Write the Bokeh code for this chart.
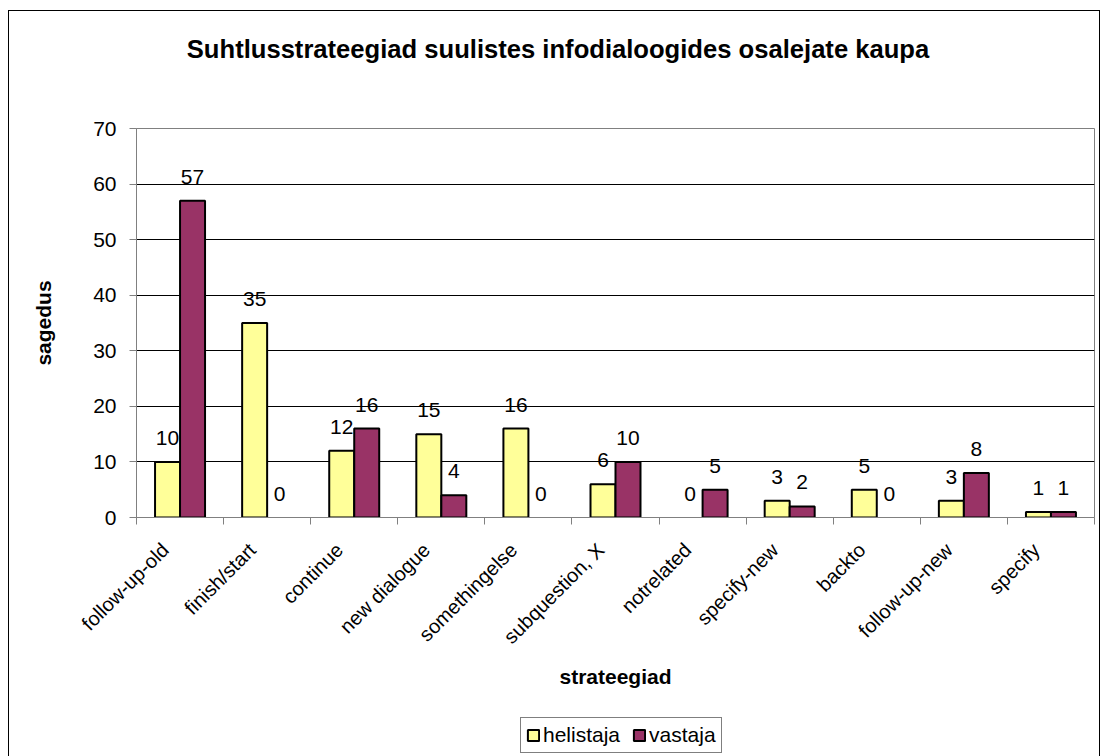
import math
from bokeh.plotting import figure
from bokeh.layouts import column
from bokeh.models import (ColumnDataSource, FixedTicker, LabelSet, Label, Legend, LegendItem)
from bokeh.core.properties import value
from bokeh.embed import file_html
from bokeh.resources import INLINE

categories = ["follow-up-old", "finish/start", "continue", "new dialogue", "somethingelse",
              "subquestion, X", "notrelated", "specify-new", "backto", "follow-up-new", "specify"]
helistaja = [10, 35, 12, 15, 16, 6, 0, 3, 5, 3, 1]
vastaja = [57, 0, 16, 4, 0, 10, 5, 2, 0, 8, 1]
y_ticks = [0, 10, 20, 30, 40, 50, 60, 70]
series_names = ["helistaja", "vastaja"]
title_text = "Suhtlusstrateegiad suulistes infodialoogides osalejate kaupa"

FONT = "Liberation Sans"
YELLOW = "#FFFF99"
PURPLE = "#993366"
BW = 0.287  # bar width in category units
W = 1090
SHIFT = 0.17  # label anchor shift (category units)

n = len(categories)
centers = [i + 0.5 for i in range(n)]
x_h = [c - BW / 2 for c in centers]
x_v = [c + BW / 2 for c in centers]

# ---- title strip (frame aligned with main chart frame) ----
tf = figure(width=W, height=100, x_range=(0, 1), y_range=(0, 1),
            x_axis_type=None, y_axis_type=None, output_backend="svg",
            toolbar_location=None, min_border=0)
tf.outline_line_color = None
tf.add_layout(Label(x=421.5, y=63, x_units="screen", y_units="screen", text=title_text,
                    text_font=FONT, text_font_size="25.6px", text_font_style="bold",
                    text_color="black", text_align="center", text_baseline="alphabetic"))

# ---- main chart ----
p = figure(width=W, height=600, x_range=(0, n), y_range=(0, 70),
           output_backend="svg", toolbar_location=None,
           min_border_left=127, min_border_right=5, min_border_top=17, min_border_bottom=194)

src_h = ColumnDataSource(dict(x=[x for x, v in zip(x_h, helistaja) if v > 0],
                              top=[v for v in helistaja if v > 0]))
src_v = ColumnDataSource(dict(x=[x for x, v in zip(x_v, vastaja) if v > 0],
                              top=[v for v in vastaja if v > 0]))
p.vbar(x="x", top="top", width=BW, bottom=0, source=src_h,
       fill_color=YELLOW, line_color="black", line_width=2)
p.vbar(x="x", top="top", width=BW, bottom=0, source=src_v,
       fill_color=PURPLE, line_color="black", line_width=2)

lab_src = ColumnDataSource(dict(x=x_h + x_v, y=helistaja + vastaja,
                                t=[str(v) for v in helistaja + vastaja]))
labels = LabelSet(x="x", y="y", text="t", source=lab_src, y_offset=17,
                  text_align="center", text_baseline="alphabetic",
                  text_font=value(FONT), text_font_size="21px", text_color="black")
p.add_layout(labels)

p.xaxis.ticker = FixedTicker(ticks=[c - SHIFT for c in centers], minor_ticks=list(range(n + 1)))
overrides = {}
for c, name in zip(centers, categories):
    overrides[c - SHIFT] = name
p.xaxis.major_label_overrides = overrides
p.xaxis.major_label_orientation = math.pi / 4
p.xaxis.major_tick_line_color = None
p.xaxis.major_tick_out = 0
p.xaxis.major_tick_in = 0
p.xaxis.minor_tick_out = 7
p.xaxis.minor_tick_in = 0
p.xaxis.minor_tick_line_color = "#808080"
p.xaxis.axis_line_color = "#808080"
p.xaxis.major_label_text_font = FONT
p.xaxis.major_label_text_font_size = "20px"
p.xaxis.major_label_text_color = "black"
p.xaxis.major_label_standoff = 22
p.xaxis.axis_label = "strateegiad"
p.xaxis.axis_label_text_font = FONT
p.xaxis.axis_label_text_font_size = "21px"
p.xaxis.axis_label_text_font_style = "bold"
p.xaxis.axis_label_text_color = "black"
p.xaxis.axis_label_standoff = 6

p.yaxis.ticker = FixedTicker(ticks=y_ticks)
p.yaxis.minor_tick_line_color = None
p.yaxis.major_tick_out = 7
p.yaxis.major_tick_in = 0
p.yaxis.major_tick_line_color = "#808080"
p.yaxis.axis_line_color = "#808080"
p.yaxis.major_label_text_font = FONT
p.yaxis.major_label_text_font_size = "21px"
p.yaxis.major_label_text_color = "black"
p.yaxis.major_label_standoff = 13
p.yaxis.axis_label = "sagedus"
p.yaxis.axis_label_text_font = FONT
p.yaxis.axis_label_text_font_size = "21px"
p.yaxis.axis_label_text_font_style = "bold"
p.yaxis.axis_label_text_color = "black"
p.yaxis.axis_label_standoff = 35

p.xgrid.grid_line_color = None
p.ygrid.grid_line_color = "black"
p.ygrid.grid_line_width = 1
p.outline_line_color = "#808080"
p.outline_line_width = 1

# ---- legend strip: the legend's swatches come from renderers of the same data;
# the strip's ranges squeeze those bars under the opaque legend box, which hides them ----
lf = figure(width=W, height=45, x_range=(-26.43, 36.77), y_range=(-34.8, 107.7),
            x_axis_type=None, y_axis_type=None, output_backend="svg",
            toolbar_location=None, min_border=0)
lf.outline_line_color = None
lr_h = lf.vbar(x="x", top="top", width=BW, bottom=0, source=src_h,
               fill_color=YELLOW, line_color="black", line_width=2)
lr_v = lf.vbar(x="x", top="top", width=BW, bottom=0, source=src_v,
               fill_color=PURPLE, line_color="black", line_width=2)
legend = Legend(items=[LegendItem(label=series_names[0], renderers=[lr_h]),
                       LegendItem(label=series_names[1], renderers=[lr_v])],
                orientation="horizontal", location=(384, 3))
legend.label_text_font = FONT
legend.label_text_font_size = "21px"
legend.label_text_color = "black"
legend.label_height = 20
legend.glyph_width = 14
legend.glyph_height = 14
legend.label_standoff = 3
legend.spacing = 12
legend.padding = 5
legend.margin = 0
legend.border_line_color = "black"
legend.border_line_width = 1
legend.background_fill_color = "white"
legend.background_fill_alpha = 1
lf.add_layout(legend, "center")

layout = column(tf, p, lf, spacing=0)
layout.styles = {"margin-left": "8px", "margin-top": "10px",
                 "border-left": "1px solid black", "border-top": "1px solid black",
                 "border-right": "1px solid black"}

open("out.html", "w").write(file_html(layout, INLINE))
